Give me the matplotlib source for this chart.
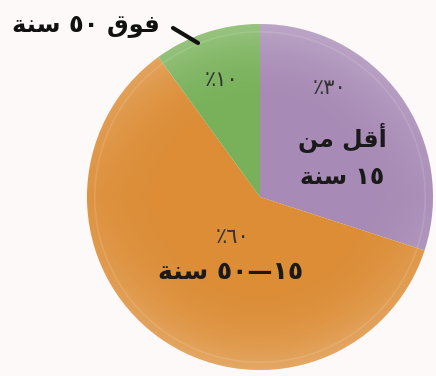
import matplotlib
matplotlib.use("Agg")
import matplotlib.pyplot as plt
import numpy as np
from matplotlib.patches import Circle

# ---------------------------------------------------------------- data --
shares = [30, 60, 10]                       # percent
pct_labels = ["٣٠٪", "٦٠٪", "١٠٪"]
age_labels = ["أقل من\n١٥ سنة", "١٥—٥٠ سنة", ""]
age_sizes = [17, 18, 17]
callout = "فوق ٥٠ سنة"
colors = ["#a78ab5", "#dc8d36", "#78b159"]

# --------------------------------------------------- tiny arabic shaper --
# (isolated, final, initial, medial); None -> letter does not join forward
_FORMS = {
    "ا": ("\uFE8D", "\uFE8E", None, None),
    "أ": ("\uFE83", "\uFE84", None, None),
    "ة": ("\uFE93", "\uFE94", None, None),
    "و": ("\uFEED", "\uFEEE", None, None),
    "ق": ("\uFED5", "\uFED6", "\uFED7", "\uFED8"),
    "ل": ("\uFEDD", "\uFEDE", "\uFEDF", "\uFEE0"),
    "م": ("\uFEE1", "\uFEE2", "\uFEE3", "\uFEE4"),
    "ن": ("\uFEE5", "\uFEE6", "\uFEE7", "\uFEE8"),
    "س": ("\uFEB1", "\uFEB2", "\uFEB3", "\uFEB4"),
    "ف": ("\uFED1", "\uFED2", "\uFED3", "\uFED4"),
}


def shape_line(s):
    out = []
    for i, c in enumerate(s):
        if c not in _FORMS:
            out.append(c)
            continue
        prev = s[i - 1] if i > 0 else ""
        nxt = s[i + 1] if i + 1 < len(s) else ""
        join_prev = prev in _FORMS and _FORMS[prev][2] is not None
        join_next = nxt in _FORMS and _FORMS[c][2] is not None
        iso, fin, ini, med = _FORMS[c]
        if join_prev and join_next:
            out.append(med)
        elif join_prev:
            out.append(fin)
        elif join_next:
            out.append(ini)
        else:
            out.append(iso)
    vis = "".join(out)[::-1]
    # numbers keep their left-to-right order
    res, run = [], []
    for c in vis:
        if c.isdigit():
            run.append(c)
        else:
            res.extend(run[::-1]); run = []
            res.append(c)
    res.extend(run[::-1])
    return "".join(res)


def shape(s):
    return "\n".join(shape_line(l) for l in s.split("\n"))


# ---------------------------------------------------------------- plot --
plt.rcParams["font.family"] = ["DejaVu Sans"]
bg = "#fdf9f9"
fig = plt.figure(figsize=(4.36, 3.76), dpi=100, facecolor=bg)
ax = fig.add_axes([0, 0, 1, 1])
ax.set_facecolor(bg)

cx, cy, r = 260, 179, 173
wedges, _ = ax.pie(shares, colors=colors, startangle=90, counterclock=False,
                   center=(cx, cy), radius=r, frame=True,
                   wedgeprops=dict(linewidth=0))

# coin-like sheen: lighter towards the rim (mostly top/bottom), clipped to the disc
n = 300
xx, yy = np.meshgrid(np.linspace(-1, 1, n), np.linspace(-1, 1, n))
d = np.hypot(xx, yy)
alpha = 0.24 * np.clip((d - 0.45) / 0.55, 0, 1) ** 2 * (0.25 + 0.75 * np.abs(yy))
rgba = np.ones((n, n, 4)); rgba[..., 3] = alpha
clip = Circle((cx, cy), r, transform=ax.transData)
im = ax.imshow(rgba, extent=(cx - r, cx + r, cy - r, cy + r), origin="lower",
               interpolation="bilinear", zorder=2)
im.set_clip_path(clip)
ax.add_patch(Circle((cx, cy), r * 0.955, fill=False, ec="white", lw=1.2,
                    alpha=0.12, zorder=2))

ax.set_xlim(0, 436); ax.set_ylim(0, 376)
ax.set_aspect("equal")
ax.axis("off")

# label positions (pixels from pie centre), picked to match the reference
pct_pos = [(70, 109), (-27, -40), (-38, 117)]
age_pos = [(82, 41), (-29, -75), (0, 0)]
for (px, py), (lx, ly), p, a, fs in zip(pct_pos, age_pos, pct_labels,
                                        age_labels, age_sizes):
    ax.text(cx + px, cy + py, shape(p), ha="center", va="center",
            fontsize=15, color="#333333", zorder=3)
    if a:
        ax.text(cx + lx, cy + ly, shape(a), ha="center", va="center",
                fontsize=fs, fontweight="bold", color="#1a1a1a",
                linespacing=1.65, zorder=3)

ax.text(86, 351, shape(callout), ha="center", va="center",
        fontsize=17.5, fontweight="bold", color="#111111")
ax.plot([173, 198], [348, 333], color="#111111", lw=3, solid_capstyle="round")

fig.savefig("out.png", dpi=100, facecolor=fig.get_facecolor())
